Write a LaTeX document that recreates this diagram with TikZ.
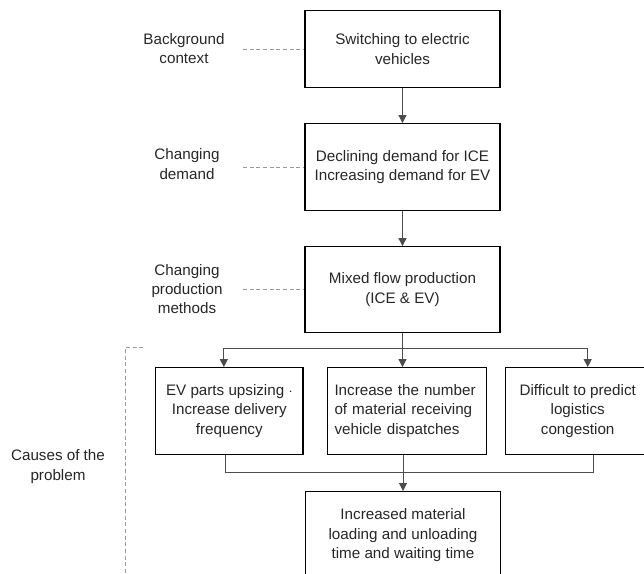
\documentclass[tikz,border=0pt]{standalone}
\usepackage{fontspec}
\setmainfont{Liberation Sans}
\usetikzlibrary{arrows.meta}

\tikzset{
  stage/.style={draw=black, line width=0.9pt, align=center, inner sep=0pt, text=black!85},
  note/.style={align=center, inner sep=0pt, text=black!85},
  flow/.style={draw=black!70, line width=0.7pt},
  arr/.style={flow, -{Triangle[length=6pt,width=6pt]}},
  guide/.style={draw=black!40, line width=0.6pt, dash pattern=on 3pt off 2pt},
}

\begin{document}
\begin{tikzpicture}[x=0.75pt, y=-0.75pt, font=\fontsize{11.4}{14.5}\selectfont]
\useasboundingbox (0,0) rectangle (644,574);

% main column
\node[stage, minimum width=146.25pt, minimum height=57.75pt] (ev) at (402.5,49.2) {Switching to electric\\vehicles};
\node[stage, minimum width=146.25pt, minimum height=65pt] (demand) at (402.5,167) {Declining demand for ICE\\Increasing demand for EV};
\node[stage, minimum width=146.25pt, minimum height=64.2pt] (mixed) at (402.5,289.5) {Mixed flow production\\(ICE \& EV)};

% causes
\node[stage, minimum width=110.5pt, minimum height=65pt] (upsize) at (229.3,411) {EV parts upsizing $\cdot$\\Increase delivery\\frequency};
\node[stage, minimum width=119.5pt, minimum height=65pt, inner xsep=5.25pt, text width=108.75pt, align=left] (dispatch) at (407,411)
  {\makebox[108.75pt][s]{Increase the number}\\\makebox[108.75pt][s]{of material receiving}\\vehicle dispatches};
\node[stage, minimum width=108.5pt, minimum height=65pt] (congest) at (577.7,411) {Difficult to predict\\logistics\\congestion};
\node[stage, minimum width=145.9pt, minimum height=65.5pt] (wait) at (403,535.3) {Increased material\\loading and unloading\\time and waiting time};

% side labels
\node[note] (lbg) at (184,48.5) {Background\\context};
\node[note] (ldem) at (187,164) {Changing\\demand};
\node[note] (lprod) at (187,289) {Changing\\production\\methods};
\node[note] (lcause) at (58,466.7) {Causes of the\\problem};

\coordinate (gx) at (243,0);
\draw[guide] (gx |- ev.west) -- (ev.west);
\draw[guide] (gx |- demand.west) -- (demand.west);
\draw[guide] (gx |- mixed.west) -- (mixed.west);
\draw[guide] (143.3,347.3) -- (125,347.3) -- (125,580);

% arrows
\draw[arr] (ev) -- (demand);
\draw[arr] (demand) -- (mixed);

\coordinate (split) at (402.5,348.3);
\draw[arr] (mixed.south) -- (mixed.south |- dispatch.north);
\draw[arr] (split) -| ([xshift=-4.1pt]upsize.north);
\draw[arr] (split) -| ([xshift=7.5pt]congest.north);

\coordinate (join) at (402.5,472.7);
\draw[flow] ([xshift=-3.2pt]upsize.south) |- (join) -| ([xshift=11.6pt]congest.south);
\draw[arr] (dispatch.south -| wait.north) -- (wait.north);

\end{tikzpicture}
\end{document}
